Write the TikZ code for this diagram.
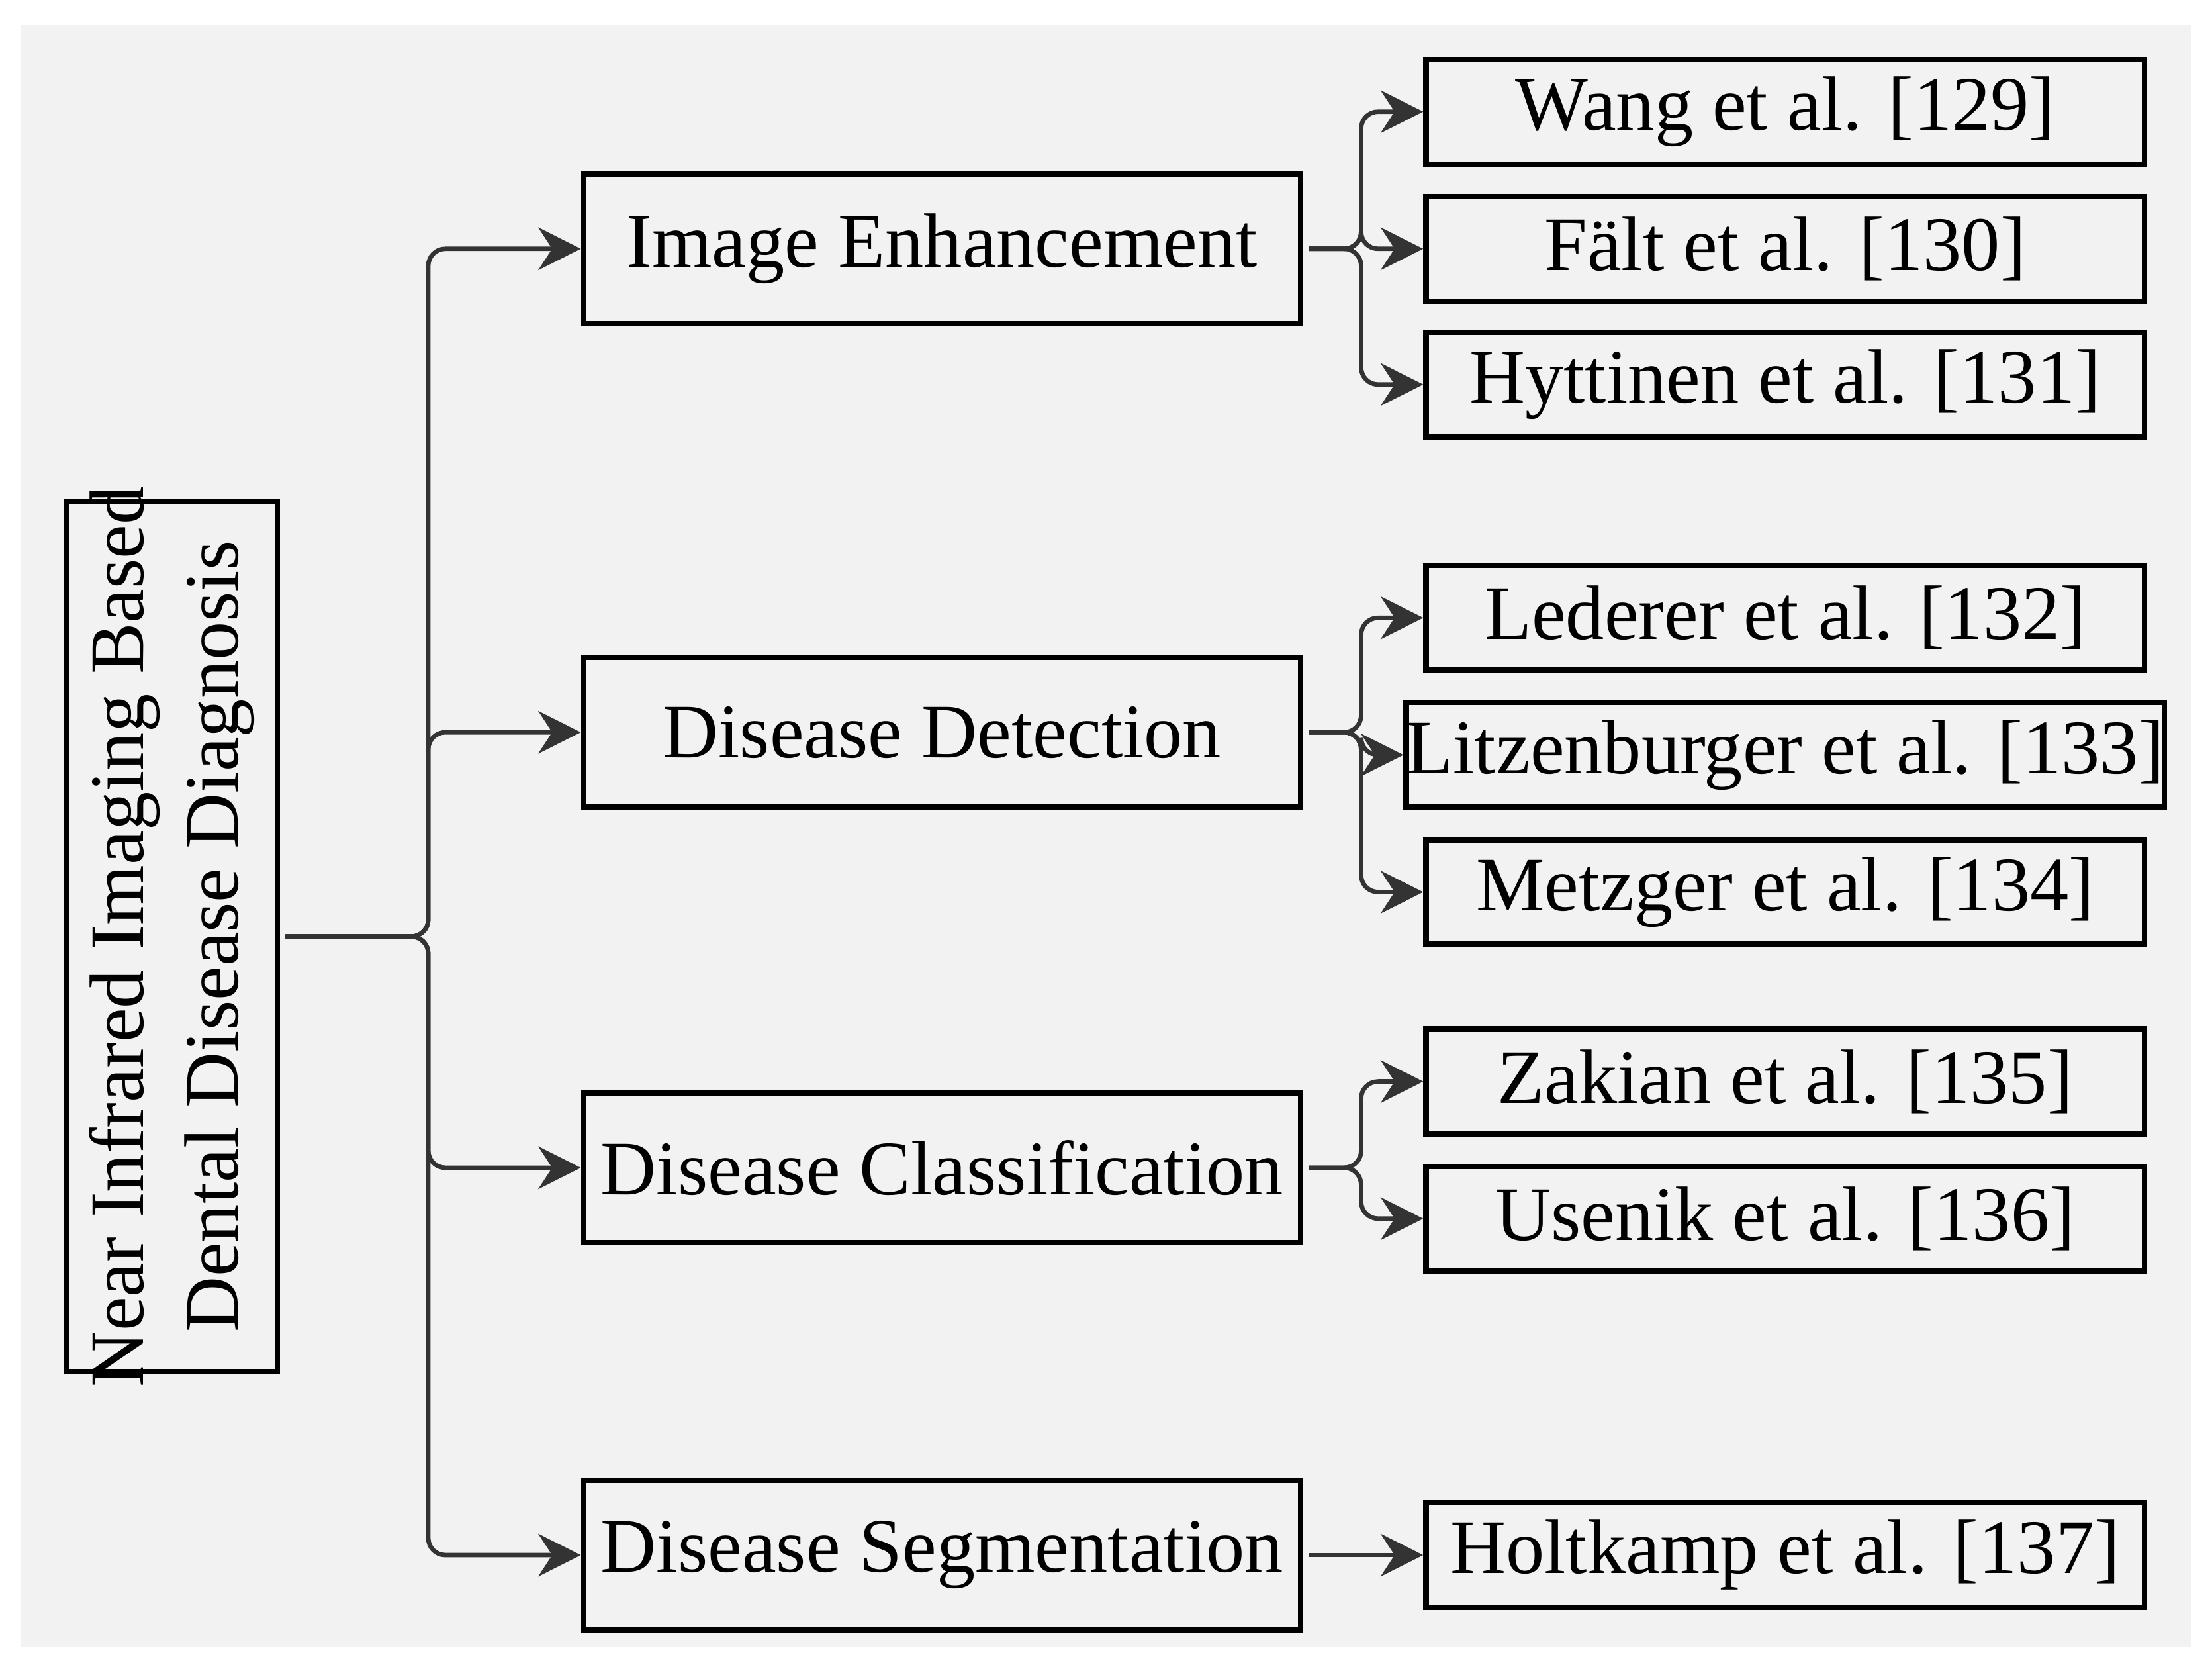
\documentclass[tikz,border=0pt]{standalone}
\usepackage{fontspec}
\setmainfont{Liberation Serif}
\usetikzlibrary{arrows.meta}
\definecolor{bggray}{HTML}{F2F2F2}
\definecolor{ink}{HTML}{333333}
\begin{document}
\begin{tikzpicture}[x=0.01cm,y=-0.01cm,
  box/.style={draw=black, line width=1.1pt, fill=none, inner sep=0pt,
    font=\fontsize{15.5}{18}\selectfont},
  mid/.style={box, minimum width=5.07cm, minimum height=1.06cm},
  ref/.style={box, minimum width=5.08cm, minimum height=0.74cm},
  conn/.style={draw=ink, line width=0.9pt, rounded corners=0.12cm,
    -{Stealth[length=0.3cm,width=0.3cm]}}
]
\useasboundingbox (0,0) rectangle (1565,1176);
\fill[white] (0,0) rectangle (1565,1176);
\fill[bggray] (15,18) rectangle (1550,1165);

% root
\node[box, minimum width=1.49cm, minimum height=6.15cm] (root) at (121.5,662.5) {};
\node[rotate=90, align=center, font=\fontsize{15.5}{19}\selectfont] (roott) at (root.center)
  {Near Infrared Imaging Based\\Dental Disease Diagnosis};

% categories
\node[mid] (ie) at (666.5,176) {Image Enhancement};
\node[mid] (dd) at (666.5,518) {Disease Detection};
\node[mid] (dc) at (666.5,826) {Disease Classification};
\node[mid] (ds) at (666.5,1100) {Disease Segmentation};

% references
\node[ref] (r1) at (1263,79) {Wang et al. [129]};
\node[ref] (r2) at (1263,176) {Fält et al. [130]};
\node[ref] (r3) at (1263,272) {Hyttinen et al. [131]};
\node[ref] (r4) at (1263,437) {Lederer et al. [132]};
\node[ref] (r5) at (1263,534) {Litzenburger et al. [133]};
\node[ref] (r6) at (1263,631) {Metzger et al. [134]};
\node[ref] (r7) at (1263,765) {Zakian et al. [135]};
\node[ref] (r8) at (1263,862) {Usenik et al. [136]};
\node[ref] (r9) at (1263,1100) {Holtkamp et al. [137]};

% connectors
\coordinate (trunk) at (303,662.5);
\foreach \m in {ie,dd,dc,ds}
  \draw[conn] ([xshift=0.04cm]root.east) -- (trunk) |- (\m.west);

\coordinate (b1) at (963,176);
\coordinate (b2) at (963,518);
\coordinate (b3) at (963,826);
\foreach \r in {r1,r2,r3}
  \draw[conn] ([xshift=0.04cm]ie.east) -- (b1) |- (\r.west);
\foreach \r in {r4,r5,r6}
  \draw[conn] ([xshift=0.04cm]dd.east) -- (b2) |- (\r.west);
\foreach \r in {r7,r8}
  \draw[conn] ([xshift=0.04cm]dc.east) -- (b3) |- (\r.west);
\draw[conn] ([xshift=0.04cm]ds.east) -- (r9.west);
\end{tikzpicture}
\end{document}
